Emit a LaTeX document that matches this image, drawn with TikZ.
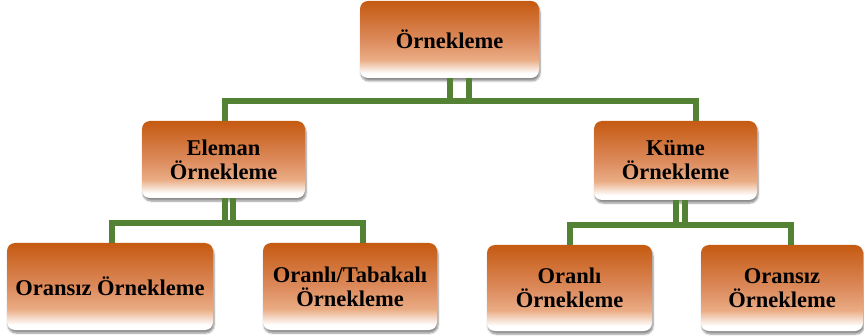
\documentclass[tikz,border=0pt]{standalone}
\usepackage{fontspec}
\setmainfont{Liberation Serif}
\usetikzlibrary{shadows.blur}
\definecolor{orA}{RGB}{197,90,17}
\definecolor{orB}{RGB}{220,138,92}
\definecolor{orC}{RGB}{234,172,132}
\definecolor{lnG}{RGB}{84,130,53}
\pgfdeclareverticalshading{boxshade}{100bp}{color(0bp)=(white); color(25bp)=(white); color(28bp)=(white); color(37bp)=(orC); color(50bp)=(orB); color(75bp)=(orA); color(100bp)=(orA)}
\tikzset{
  box/.style={shading=boxshade, rounded corners=8pt, inner sep=0pt, align=center,
    font=\bfseries\fontsize{22.5}{24}\selectfont,
    blur shadow={shadow xshift=1pt, shadow yshift=-3pt, shadow blur steps=6, shadow opacity=45}},
  conn/.style={draw=lnG, line width=5.5pt}
}
\begin{document}
\begin{tikzpicture}[x=1pt,y=-1pt]
\useasboundingbox (0,0) rectangle (864,336);
\node[box, minimum width=179pt, minimum height=77pt] (root) at (449.5,39.5) {Örnekleme};
\node[box, minimum width=163pt, minimum height=77pt] (c1) at (223.5,159.5) {Eleman\\Örnekleme};
\node[box, minimum width=163pt, minimum height=79pt] (c2) at (675.5,160.5) {Küme\\Örnekleme};
\node[box, minimum width=206pt, minimum height=87pt] (l1) at (110,286.5) {Oransız Örnekleme};
\node[box, minimum width=174pt, minimum height=87pt] (l2) at (350,286.5) {Oranlı/Tabakalı\\Örnekleme};
\node[box, minimum width=165pt, minimum height=86pt] (l3) at (569.5,288) {Oranlı\\Örnekleme};
\node[box, minimum width=162pt, minimum height=86pt] (l4) at (782,288) {Oransız\\Örnekleme};
\draw[conn] ([xshift=19.5pt]root.south) -- ++(0,23) -| ([xshift=1.5pt]c1.north);
\draw[conn] ([xshift=0.5pt]root.south) -- ++(0,23) -| ([xshift=20.5pt]c2.north);
\draw[conn] ([xshift=9.5pt]c1.south) -- ++(0,25) -| ([xshift=2pt]l1.north);
\draw[conn] ([xshift=1.5pt]c1.south) -- ++(0,25) -| ([xshift=13pt]l2.north);
\draw[conn] ([xshift=9.5pt]c2.south) -- ++(0,25) -| ([xshift=0.5pt]l3.north);
\draw[conn] ([xshift=0.5pt]c2.south) -- ++(0,25) -| ([xshift=9pt]l4.north);
\end{tikzpicture}
\end{document}
